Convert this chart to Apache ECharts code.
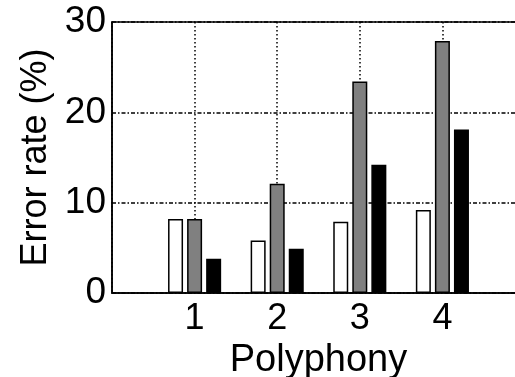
<!DOCTYPE html>
<html>
<head>
<meta charset="utf-8">
<script src="https://cdn.jsdelivr.net/npm/echarts@6/dist/echarts.min.js"></script>
<style>html,body{margin:0;padding:0;background:#fff}#c{width:515px;height:377px}</style>
</head>
<body>
<div id="c"></div>
<script>
const categories = [1, 2, 3, 4];
const whiteVals = [8.2, 5.8, 7.9, 9.2];
const grayVals = [8.2, 12.1, 23.4, 27.9];
const blackVals = [3.8, 4.9, 14.2, 18.1];
const yTicks = [0, 10, 20, 30];

const font = '"Liberation Sans", Arial, sans-serif';
function pairs(vals) { return categories.map((c, i) => [c, vals[i]]); }
function barSeries(vals, color) {
  return {
    type: 'bar', data: pairs(vals), barWidth: 15, barGap: '27%',
    itemStyle: { color: color, borderColor: '#000', borderWidth: 1.5 },
    z: 3
  };
}
const chart = echarts.init(document.getElementById('c'));
chart.setOption({
  animation: false,
  backgroundColor: '#fff',
  grid: { left: 112, right: -10, top: 22, bottom: 84, show: true, borderColor: '#000', borderWidth: 1.5,
    containLabel: false, outerBoundsMode: 'none' },
  xAxis: {
    type: 'value', min: 0, max: 5, interval: 1,
    name: 'Polyphony', nameLocation: 'middle', nameGap: 37,
    nameTextStyle: { fontFamily: font, fontSize: 38, color: '#000' },
    axisLine: { show: true, lineStyle: { color: '#000', width: 1.5 } },
    axisTick: { show: false },
    axisLabel: { fontFamily: font, fontSize: 36, color: '#000', margin: 8,
      formatter: v => categories.indexOf(v) >= 0 ? String(v) : '' },
    splitLine: { show: true, lineStyle: { color: '#000', width: 1.5, type: [1.5, 2.5] } }
  },
  yAxis: {
    type: 'value', min: 0, max: 30, interval: 10,
    name: 'Error rate (%)', nameLocation: 'middle', nameGap: 58,
    nameTextStyle: { fontFamily: font, fontSize: 36, color: '#000' },
    axisLine: { show: true, lineStyle: { color: '#000', width: 1.5 } },
    axisTick: { show: false },
    axisLabel: { fontFamily: font, fontSize: 37, color: '#000', margin: 6,
      formatter: v => yTicks.indexOf(v) >= 0 ? String(v) : '' },
    splitLine: { show: true, lineStyle: { color: '#000', width: 1.5, type: [4, 2, 1.5, 2] } }
  },
  series: [
    barSeries(whiteVals, '#ffffff'),
    barSeries(grayVals, '#808080'),
    barSeries(blackVals, '#000000')
  ]
});
</script>
</body>
</html>
